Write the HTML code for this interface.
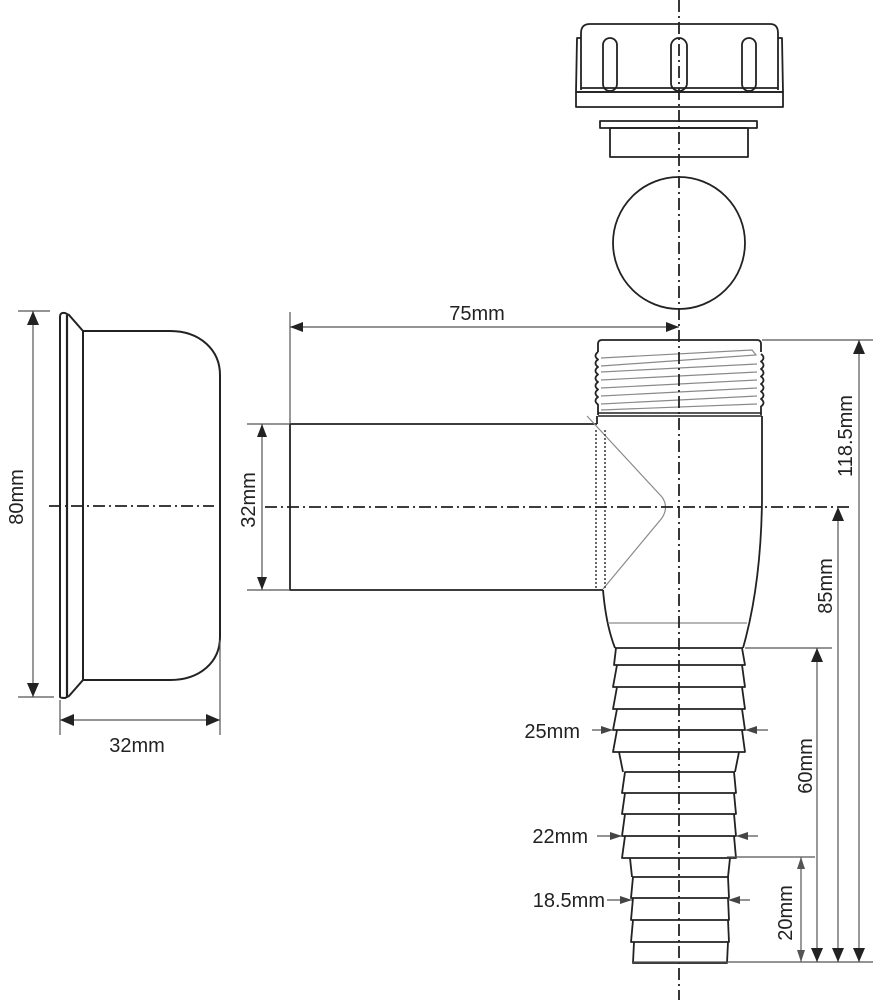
<!DOCTYPE html>
<html><head><meta charset="utf-8"><style>
html,body{margin:0;padding:0;background:#fff;}
svg{display:block;}
text{font-family:"Liberation Sans",Arial,sans-serif;font-size:20px;fill:#222;}
</style></head><body>
<svg width="884" height="1000" viewBox="0 0 884 1000" xmlns="http://www.w3.org/2000/svg">
<g fill="none" stroke="#222" stroke-width="1.8" stroke-linejoin="round">
<!-- Nut -->
<path d="M581,90 L581,33 Q581,24 590,24 L770,24 Q778,24 778,33 L778,90"/>
<path d="M581,38 L577,38 L576,92 M778,38 L782,38 L783,92"/>
<path d="M581,88 L778,88 M576,92 L783,92"/>
<rect x="576" y="92" width="207" height="15"/>
<rect x="603" y="38" width="14" height="53" rx="7"/>
<rect x="671" y="38" width="16" height="53" rx="8"/>
<rect x="742" y="38" width="14" height="53" rx="7"/>
<!-- Ring -->
<rect x="600" y="121" width="157" height="7"/>
<rect x="610" y="128" width="138" height="29"/>
<!-- Ball -->
<circle cx="679" cy="243" r="66"/>
<!-- Cup -->
<path d="M60,697 L60,317 Q60,312 65,313 L69,315 L83,331 L170,331 C200,331 220,350 220,375 L220,637 C220,662 200,680 170,680 L83,680 L69,696 L65,698 Q60,698 60,697 Z" stroke-width="2"/>
<path d="M67,315 L67,697" stroke-width="2.2"/>
<path d="M83,331 L83,680" stroke-width="2"/>
<!-- Side pipe -->
<path d="M597,424 L290,424 L290,590 L603,590"/>
<!-- Threaded top -->
<path d="M598,352 L598,344 Q598,340 602,340 L757,340 Q761,340 761,344 L761,352"/>
<path d="M598,352 q-5,3.75 0,7.5 q-5,3.75 0,7.5 q-5,3.75 0,7.5 q-5,3.75 0,7.5 q-5,3.75 0,7.5 q-5,3.75 0,7.5 q-5,3.75 0,7.5 L598,415"/>
<path d="M761,354 q5,3.75 0,7.5 q5,3.75 0,7.5 q5,3.75 0,7.5 q5,3.75 0,7.5 q5,3.75 0,7.5 q5,3.75 0,7.5 q5,3.75 0,7.5 L761,415"/>
<path d="M598,413 L761,413 M598,416 L762,416" stroke-width="1.6"/>
<!-- Body -->
<path d="M597,416 L597,424"/>
<path d="M762,416 L762,500 Q761,585 743,648"/>
<path d="M603,590 Q606,625 615,648"/>
<path d="M615,648 L743,648"/>
<!-- Tail group 1 -->
<path d="M616,648 L614,665 L745,665 L742,648"/>
<path d="M617,665 L613,687 L745,687 L742,665"/>
<path d="M617,687 L613,709 L745,709 L742,687"/>
<path d="M617,709 L613,730 L745,730 L742,709"/>
<path d="M617,730 L613,752 L745,752 L742,730"/>
<!-- transition -->
<path d="M619,752 Q621,762 623,772 M739,752 Q737,762 735,772"/>
<!-- group 2 -->
<path d="M625,772 L622,793 L736,793 L734,772 Z"/>
<path d="M625,793 L622,814 L736,814 L734,793"/>
<path d="M625,814 L622,836 L736,836 L734,814"/>
<path d="M625,836 L622,858 L736,858 L734,836"/>
<path d="M630,858 L632,877 M730,858 L728,877"/>
<!-- group 3 -->
<path d="M633,877 L631,898 L729,898 L728,877 Z"/>
<path d="M633,898 L631,920 L729,920 L728,898"/>
<path d="M633,920 L631,942 L729,942 L728,920"/>
<path d="M634,942 L633,963 L727,963 L728,942"/>
</g>
<!-- thin grey details -->
<g fill="none" stroke="#8a8a8a" stroke-width="1.2">
<path d="M601,358 L752,350 L756,355 L601,366"/>
<path d="M601,372 L757,364"/>
<path d="M601,380 L757,372"/>
<path d="M601,388 L757,380"/>
<path d="M601,396 L757,388"/>
<path d="M601,404 L757,396"/>
<path d="M601,410 L757,404"/>
<path d="M587,416 L662,497 Q669,507 662,518 L603,589"/>
<path d="M608,623 L747,623"/>
</g>
<g fill="none" stroke="#444" stroke-width="1.6" stroke-dasharray="2,2">
<path d="M596,430 L596,588 M605,430 L605,588"/>
</g>
<!-- centerlines -->
<g fill="none" stroke="#222" stroke-width="1.8" stroke-dasharray="12,4,2,4">
<path d="M679,0 L679,1000"/>
<path d="M265,507 L852,507"/>
<path d="M49,506 L214,506"/>
</g>
<!-- dimension lines -->
<g fill="none" stroke="#555" stroke-width="1.2">
<path d="M290,312 L290,424"/>
<path d="M290,327 L679,327"/>
<path d="M247,424 L290,424 M247,590 L290,590"/>
<path d="M262,424 L262,590"/>
<path d="M18,311 L50,311 M18,697 L54,697"/>
<path d="M33,311 L33,697"/>
<path d="M60,700 L60,735 M220,640 L220,735"/>
<path d="M60,720 L220,720"/>
<path d="M762,340 L873,340"/>
<path d="M859,340 L859,962"/>
<path d="M838,507 L838,962"/>
<path d="M745,648 L832,648"/>
<path d="M817,648 L817,962"/>
<path d="M727,857 L815,857"/>
<path d="M801,857 L801,962"/>
<path d="M633,962 L873,962"/>
<path d="M592,730 L613,730 M745,730 L768,730"/>
<path d="M597,836 L622,836 M736,836 L758,836"/>
<path d="M607,900 L632,900 M728,900 L750,900"/>
</g>
<g fill="#222" stroke="none">
<!-- 75mm -->
<polygon points="290,327 303,322 303,332"/>
<polygon points="679,327 666,322 666,332"/>
<!-- 32mm pipe -->
<polygon points="262,424 257,437 267,437"/>
<polygon points="262,590 257,577 267,577"/>
<!-- 80mm -->
<polygon points="33,311 27,325 39,325"/>
<polygon points="33,697 27,683 39,683"/>
<!-- 32mm cup -->
<polygon points="60,720 74,714 74,726"/>
<polygon points="220,720 206,714 206,726"/>
<!-- right dims -->
<polygon points="859,340 853,354 865,354"/>
<polygon points="859,962 853,948 865,948"/>
<polygon points="838,507 832,521 844,521"/>
<polygon points="838,962 832,948 844,948"/>
<polygon points="817,648 811,662 823,662"/>
<polygon points="817,962 811,948 823,948"/>
<polygon points="801,857 797,869 805,869" fill="#555"/>
<polygon points="801,962 797,950 805,950" fill="#555"/>
<!-- tail dims -->
<polygon points="613,730 601,726 601,734" fill="#444"/>
<polygon points="745,730 757,726 757,734" fill="#444"/>
<polygon points="622,836 610,832 610,840" fill="#444"/>
<polygon points="736,836 748,832 748,840" fill="#444"/>
<polygon points="632,900 620,896 620,904" fill="#444"/>
<polygon points="728,900 740,896 740,904" fill="#444"/>
</g>
<!-- labels -->
<text x="477" y="320" text-anchor="middle">75mm</text>
<text x="137" y="752" text-anchor="middle">32mm</text>
<text x="580" y="738" text-anchor="end">25mm</text>
<text x="588" y="843" text-anchor="end">22mm</text>
<text x="605" y="907" text-anchor="end">18.5mm</text>
<text transform="translate(23,497) rotate(-90)" text-anchor="middle">80mm</text>
<text transform="translate(255,500) rotate(-90)" text-anchor="middle">32mm</text>
<text transform="translate(852,436) rotate(-90)" text-anchor="middle">118.5mm</text>
<text transform="translate(832,586) rotate(-90)" text-anchor="middle">85mm</text>
<text transform="translate(812,766) rotate(-90)" text-anchor="middle">60mm</text>
<text transform="translate(792,913) rotate(-90)" text-anchor="middle">20mm</text>
</svg>
</body></html>
